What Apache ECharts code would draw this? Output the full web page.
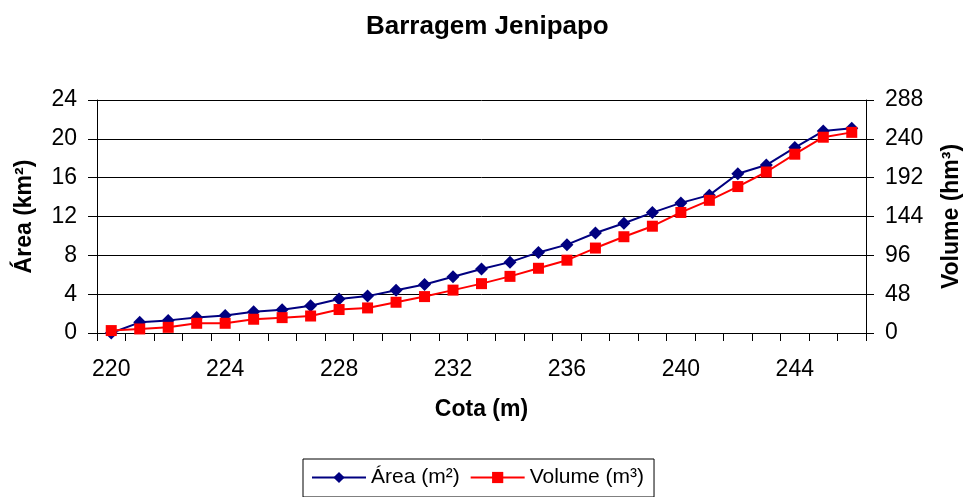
<!DOCTYPE html>
<html>
<head>
<meta charset="utf-8">
<script src="https://cdn.jsdelivr.net/npm/echarts@6/dist/echarts.min.js"></script>
<style>
  html, body { margin: 0; padding: 0; background: #fff; }
  #chart { width: 963px; height: 497px; }
</style>
</head>
<body>
<div id="chart"></div>
<script>
// Cota (m) – elevation levels of the reservoir
const cotas = ['220','221','222','223','224','225','226','227','228','229','230','231','232','233',
               '234','235','236','237','238','239','240','241','242','243','244','245','246'];

// Área inundada (km²) per cota
const area = [0, 1.1, 1.3, 1.6, 1.8, 2.2, 2.4, 2.8, 3.5, 3.8, 4.4, 5.0, 5.8, 6.6,
              7.3, 8.3, 9.1, 10.3, 11.3, 12.4, 13.4, 14.2, 16.4, 17.3, 19.1, 20.8, 21.1];

// Volume acumulado (hm³) per cota
const volume = [3, 5, 7, 12, 12, 17, 19, 21, 29, 31, 38, 45, 53, 61,
                70, 80, 90, 105, 119, 132, 149, 164, 181, 199, 221, 242, 248];

// Axis tick values
const areaTicks = [0, 4, 8, 12, 16, 20, 24];
const volumeTicks = [0, 48, 96, 144, 192, 240, 288];

const FONT = '"Liberation Sans", Arial, sans-serif';

const chart = echarts.init(document.getElementById('chart'), null, { renderer: 'canvas' });

chart.setOption({
  animation: false,
  backgroundColor: '#ffffff',
  textStyle: { fontFamily: FONT, color: '#000' },
  title: {
    text: 'Barragem Jenipapo',
    left: 361,
    top: 9,
    textStyle: { fontFamily: FONT, fontSize: 26, fontWeight: 'bold', color: '#000' }
  },
  legend: {
    left: 303,
    top: 459,
    orient: 'horizontal',
    itemWidth: 54,
    itemHeight: 14,
    itemGap: 10,
    padding: [8, 10, 9, 8],
    borderColor: '#000',
    borderWidth: 1,
    textStyle: { fontFamily: FONT, fontSize: 21, color: '#000' },
    data: ['Área (m²)', 'Volume (m³)']
  },
  // fixed plot rectangle; axis names sit outside it without shrinking it
  grid: { left: 97, right: 97, top: 100, bottom: 164, containLabel: false, outerBoundsMode: 'none' },
  xAxis: {
    type: 'category',
    data: cotas,
    boundaryGap: true,
    name: 'Cota (m)',
    nameLocation: 'middle',
    nameGap: 65,
    nameTextStyle: { fontFamily: FONT, fontSize: 23, fontWeight: 'bold', color: '#000' },
    axisLine: { lineStyle: { color: '#000', width: 1 } },
    axisTick: { show: true, interval: 0, length: 8, lineStyle: { color: '#000' } },
    axisLabel: { interval: 3, margin: 25, fontFamily: FONT, fontSize: 23, color: '#000' },
    splitLine: { show: false }
  },
  yAxis: [
    {
      type: 'value',
      position: 'left',
      min: areaTicks[0],
      max: areaTicks[areaTicks.length - 1],
      interval: areaTicks[1] - areaTicks[0],
      name: 'Área (km²)',
      nameLocation: 'middle',
      nameRotate: 90,
      nameGap: 61,
      nameTextStyle: { fontFamily: FONT, fontSize: 23, fontWeight: 'bold', color: '#000' },
      axisLine: { show: true, lineStyle: { color: '#000', width: 1 } },
      axisTick: { show: true, length: 9, lineStyle: { color: '#000' } },
      axisLabel: { margin: 20, fontFamily: FONT, fontSize: 23, color: '#000' },
      splitLine: { show: true, lineStyle: { color: '#000', width: 1 } }
    },
    {
      type: 'value',
      position: 'right',
      min: volumeTicks[0],
      max: volumeTicks[volumeTicks.length - 1],
      interval: volumeTicks[1] - volumeTicks[0],
      name: 'Volume (hm³)',
      nameLocation: 'middle',
      nameRotate: 90,
      nameGap: 74,
      nameTextStyle: { fontFamily: FONT, fontSize: 23, fontWeight: 'bold', color: '#000' },
      axisLine: { show: true, lineStyle: { color: '#000', width: 1 } },
      axisTick: { show: true, length: 8, lineStyle: { color: '#000' } },
      axisLabel: { margin: 19, fontFamily: FONT, fontSize: 23, color: '#000' },
      splitLine: { show: false }
    }
  ],
  series: [
    {
      name: 'Área (m²)',
      type: 'line',
      yAxisIndex: 0,
      data: area,
      symbol: 'diamond',
      symbolSize: 13,
      showAllSymbol: true,
      lineStyle: { color: '#000080', width: 2 },
      itemStyle: { color: '#000080' },
      z: 3
    },
    {
      name: 'Volume (m³)',
      type: 'line',
      yAxisIndex: 1,
      data: volume,
      symbol: 'rect',
      symbolSize: 11,
      showAllSymbol: true,
      lineStyle: { color: '#ff0000', width: 2 },
      itemStyle: { color: '#ff0000' },
      z: 4
    }
  ]
});
</script>
</body>
</html>
